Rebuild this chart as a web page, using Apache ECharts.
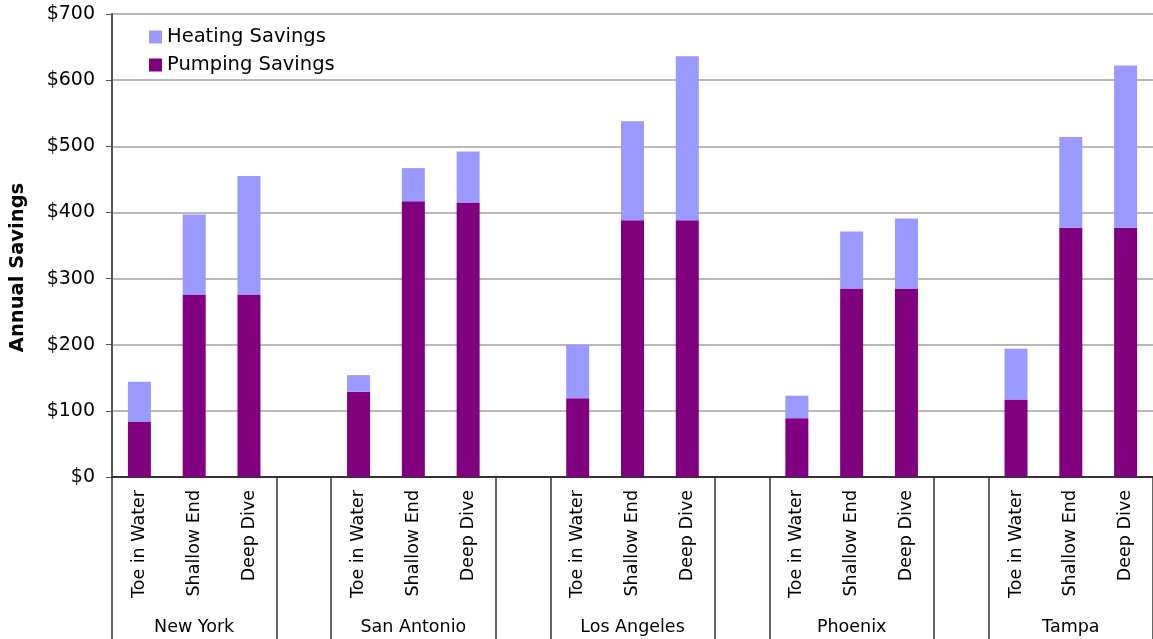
<!DOCTYPE html>
<html>
<head>
<meta charset="utf-8">
<title>Annual Savings by City</title>
<script src="https://cdn.jsdelivr.net/npm/echarts@6/dist/echarts.min.js"></script>
<style>
  html, body { margin: 0; padding: 0; background: #ffffff; }
  #chart { width: 1153px; height: 639px; }
</style>
</head>
<body>
<div id="chart"></div>
<script>
// Cities (outer category level) and package tiers (inner level)
const cities = ['New York', 'San Antonio', 'Los Angeles', 'Phoenix', 'Tampa'];
const tiers = ['Toe in Water', 'Shallow End', 'Deep Dive'];

// Annual savings in dollars, one value per tier, city by city
const pumpingSavings = [
  84, 276, 276,    // New York
  129, 417, 415,   // San Antonio
  119, 388, 388,   // Los Angeles
  89, 285, 285,    // Phoenix
  117, 377, 377    // Tampa
];
const heatingSavings = [
  60, 121, 179,    // New York
  25, 50, 77,      // San Antonio
  81, 150, 248,    // Los Angeles
  34, 86, 106,     // Phoenix
  77, 137, 245     // Tampa
];

// Value axis ticks
const yTicks = [0, 100, 200, 300, 400, 500, 600, 700];

// Build the flat category list: three tiers per city with an empty slot between cities
const tierCats = [];
const cityCats = [];
const pumpData = [];
const heatData = [];
const groupStarts = [];
cities.forEach(function (city, ci) {
  groupStarts.push(tierCats.length);
  tiers.forEach(function (tier, ti) {
    tierCats.push(tier);
    cityCats.push(ti === 1 ? city : '');
    pumpData.push(pumpingSavings[ci * tiers.length + ti]);
    heatData.push(heatingSavings[ci * tiers.length + ti]);
  });
  if (ci < cities.length - 1) {
    groupStarts.push(tierCats.length);
    tierCats.push('');
    cityCats.push('');
    pumpData.push('-');
    heatData.push('-');
  }
});

const FONT = 'DejaVu Sans, Verdana, sans-serif';
const chart = echarts.init(document.getElementById('chart'), null, { renderer: 'canvas' });

chart.setOption({
  animation: false,
  backgroundColor: '#ffffff',
  textStyle: { fontFamily: FONT, color: '#000' },
  legend: {
    orient: 'vertical',
    left: 144,
    top: 22,
    itemWidth: 13,
    itemHeight: 13,
    itemGap: 8,
    icon: 'rect',
    data: ['Heating Savings', 'Pumping Savings'],
    textStyle: { fontFamily: FONT, fontSize: 19.5, color: '#000' }
  },
  grid: { left: 109, top: 14, width: 1045, height: 463, containLabel: false },
  xAxis: [
    {
      type: 'category',
      data: tierCats,
      boundaryGap: true,
      axisLine: { show: true, lineStyle: { color: '#333', width: 2 } },
      axisTick: {
        show: true,
        length: 170,
        interval: function (index) { return groupStarts.indexOf(index) !== -1; },
        lineStyle: { color: '#333', width: 1.5 }
      },
      axisLabel: {
        interval: 0,
        rotate: 90,
        margin: 13,
        fontFamily: FONT,
        fontSize: 17.5,
        color: '#000'
      },
      splitLine: { show: false }
    },
    {
      type: 'category',
      position: 'bottom',
      data: cityCats,
      boundaryGap: true,
      axisLine: { show: false },
      axisTick: { show: false },
      axisLabel: {
        interval: 0,
        margin: 141,
        fontFamily: FONT,
        fontSize: 17.5,
        color: '#000'
      },
      splitLine: { show: false }
    }
  ],
  yAxis: {
    type: 'value',
    min: yTicks[0],
    max: yTicks[yTicks.length - 1],
    interval: 100,
    name: 'Annual Savings',
    nameLocation: 'middle',
    nameRotate: 90,
    nameGap: 84,
    nameTextStyle: {
      fontFamily: FONT,
      fontSize: 19.5,
      fontWeight: 'bold',
      color: '#000',
      padding: [0, 44, 0, 0]
    },
    axisLine: { show: true, lineStyle: { color: '#555', width: 2 } },
    axisTick: { show: true, length: 6, lineStyle: { color: '#555', width: 1 } },
    axisLabel: {
      margin: 17,
      fontFamily: FONT,
      fontSize: 19,
      color: '#000',
      formatter: function (v) { return '$' + v; }
    },
    splitLine: { show: true, lineStyle: { color: '#a0a0a0', width: 1.5 } }
  },
  series: [
    {
      name: 'Pumping Savings',
      type: 'bar',
      stack: 'savings',
      xAxisIndex: 0,
      barWidth: 23,
      itemStyle: { color: '#800080' },
      data: pumpData
    },
    {
      name: 'Heating Savings',
      type: 'bar',
      stack: 'savings',
      xAxisIndex: 0,
      barWidth: 23,
      itemStyle: { color: '#9999ff' },
      data: heatData
    }
  ]
});
</script>
</body>
</html>
